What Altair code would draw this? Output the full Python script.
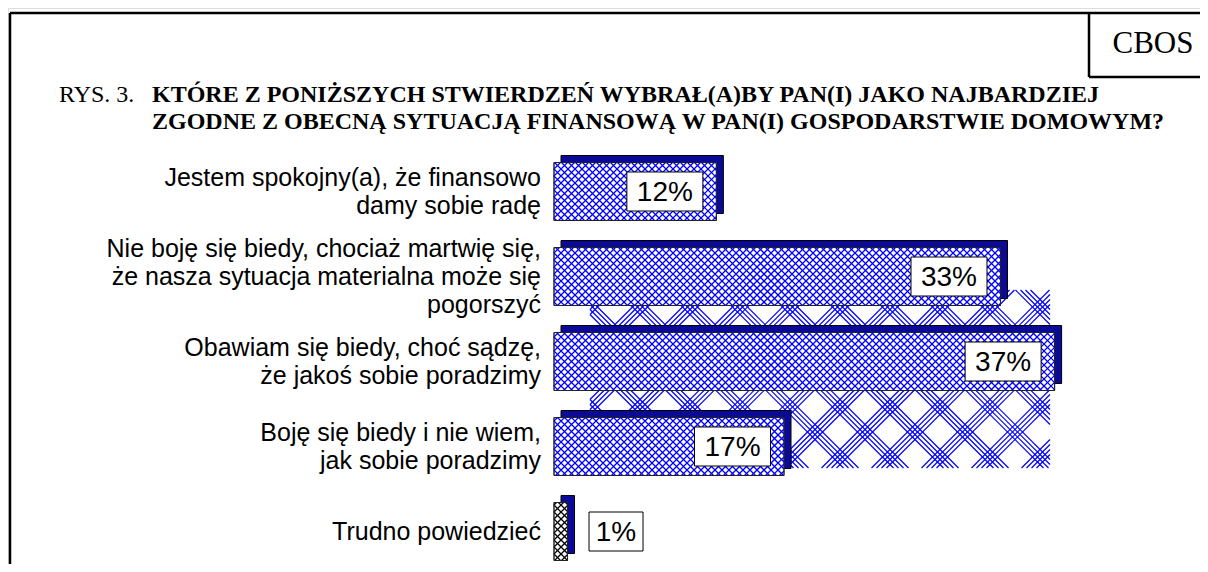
import altair as alt
import pandas as pd
import numpy as np

# ---------------- data ----------------
categories = [
    "Jestem spokojny(a), że finansowo\ndamy sobie radę",
    "Nie boję się biedy, chociaż martwię się,\nże nasza sytuacja materialna może się\npogorszyć",
    "Obawiam się biedy, choć sądzę,\nże jakoś sobie poradzimy",
    "Boję się biedy i nie wiem,\njak sobie poradzimy",
    "Trudno powiedzieć",
]
values = [12, 33, 37, 17, 1]
value_labels = ["12%", "33%", "37%", "17%", "1%"]
hatch_colors = ["#0000ff", "#0000ff", "#0000ff", "#0000ff", "#000000"]
title_prefix = "RYS. 3."
title_lines = [
    "KTÓRE Z PONIŻSZYCH STWIERDZEŃ WYBRAŁ(A)BY PAN(I) JAKO NAJBARDZIEJ",
    "ZGODNE Z OBECNĄ SYTUACJĄ FINANSOWĄ W PAN(I) GOSPODARSTWIE DOMOWYM?",
]
source_label = "CBOS"

# ---------------- layout (pixels) ----------------
W, H = 1192, 556
PX = 13.53          # pixels per percentage point
X0 = 546            # pixel position of 0%
ROW = 85            # pixels between bar centres
Y0 = 183.5          # pixel centre of first bar
BAR_H = 58
DEPTH = 7
LINE_H = 28

def xd(px):
    return (px - X0) / PX

def yd(py):
    return (py - Y0) / ROW

xscale = alt.Scale(domain=[xd(0), xd(W)], nice=False, zero=False)
yscale = alt.Scale(domain=[yd(0), yd(H)], nice=False, zero=False, reverse=True)

rows = list(range(len(values)))
df = pd.DataFrame({"value": values, "label": value_labels, "row": rows})
df["start"] = 0.0
df["top"] = df["row"] - (BAR_H / 2) / ROW
df["bot"] = df["row"] + (BAR_H / 2) / ROW
box_w = [22 * len(s) + 10 for s in value_labels]
bl, br = [], []
for v, w in zip(values, box_w):
    if v * PX > w + 30:
        r = v - 13.5 / PX
        bl.append(r - w / PX); br.append(r)
    else:
        l = v + 21.5 / PX
        bl.append(l); br.append(l + w / PX)
df["box_l"] = bl
df["box_r"] = br
df["box_c"] = (df["box_l"] + df["box_r"]) / 2
df["box_t"] = df["row"] - 19.5 / ROW
df["box_b"] = df["row"] + 19.5 / ROW

# category label lines, centred on their bar
lab = []
for i, c in enumerate(categories):
    parts = c.split("\n")
    n = len(parts)
    for k, p in enumerate(parts):
        lab.append({"txt": p, "yy": i + (k - (n - 1) / 2) * LINE_H / ROW})
labdf = pd.DataFrame(lab)


def diag_segments(x0p, x1p, y0p, y1p, cs_plus, cs_minus, col):
    out = []
    for c in cs_plus:          # x + y = c
        xa, xb = max(x0p, c - y1p), min(x1p, c - y0p)
        if xb > xa:
            out.append((xd(xa), yd(c - xa), xd(xb), yd(c - xb), col))
    for c in cs_minus:         # x - y = c
        xa, xb = max(x0p, c + y0p), min(x1p, c + y1p)
        if xb > xa:
            out.append((xd(xa), yd(xa - c), xd(xb), yd(xb - c), col))
    return out

# hatch texture inside the bar faces (derived from the values)
S = 7.0
segs = []
for i, v in enumerate(values):
    x0p, x1p = X0, X0 + v * PX
    cy = Y0 + ROW * i
    y0p, y1p = cy - BAR_H / 2, cy + BAR_H / 2
    cp = np.arange(np.ceil((x0p + y0p) / S) * S, x1p + y1p + 0.01, S)
    cm = np.arange(np.ceil((x0p - y1p) / S) * S, x1p - y0p + 0.01, S)
    segs += diag_segments(x0p, x1p, y0p, y1p, cp, cm, hatch_colors[i])
hatch = pd.DataFrame(segs, columns=["x", "y", "x2", "y2", "col"])

# decorative large lattice seen behind the bars
bx0, bx1, by0, by1 = 582, 1042, 282, 460
P = 50
offs = [-7.5, -2.5, 2.5, 7.5]
cp = [931 + P * k + o for k in range(-30, 30) for o in offs]
cm = [333 + P * k + o for k in range(-30, 30) for o in offs]
lat = pd.DataFrame(diag_segments(bx0, bx1, by0, by1, cp, cm, "#0000ff"),
                   columns=["x", "y", "x2", "y2", "col"])

one = pd.DataFrame({"a": [0]})

X = lambda f: alt.X(f, type="quantitative", scale=xscale, axis=None)
Y = lambda f: alt.Y(f, type="quantitative", scale=yscale, axis=None)

lattice = alt.Chart(lat).mark_rule(strokeWidth=1.2, color="#0000ff").encode(
    x=X("x"), x2="x2", y=Y("y"), y2="y2")

back = alt.Chart(df).mark_rect(
    color="#0a0a96", stroke="#000000", strokeWidth=1,
    xOffset=DEPTH, x2Offset=DEPTH, yOffset=-DEPTH, y2Offset=-DEPTH
).encode(x=X("start"), x2="value", y=Y("top"), y2="bot")

front = alt.Chart(df).mark_rect(fill="#ffffff", stroke="#333333", strokeWidth=1).encode(
    x=X("start"), x2="value", y=Y("top"), y2="bot")

hatch_layer = alt.Chart(hatch).mark_rule(strokeWidth=1.3).encode(
    x=X("x"), x2="x2", y=Y("y"), y2="y2",
    color=alt.Color("col:N", scale=None, legend=None),
)

front_edge = alt.Chart(df).mark_rect(fill=None, stroke="#222222", strokeWidth=1).encode(
    x=X("start"), x2="value", y=Y("top"), y2="bot")

boxes = alt.Chart(df).mark_rect(fill="#ffffff", stroke="#000000", strokeWidth=1).encode(
    x=X("box_l"), x2="box_r", y=Y("box_t"), y2="box_b")

box_text = alt.Chart(df).mark_text(
    font="Liberation Sans", fontSize=28, align="center", baseline="middle", dy=1, color="#000000"
).encode(x=X("box_c"), y=Y("row"), text="label:N")

cat_text = alt.Chart(labdf).mark_text(
    font="Liberation Sans", fontSize=25, align="right", baseline="middle", color="#000000"
).encode(x=alt.value(533), y=Y("yy"), text="txt:N")

# frame, CBOS box, titles
rule = dict(color="#000000", strokeWidth=2.5)
frame_top = alt.Chart(one).mark_rule(**rule).encode(x=alt.value(2), x2=alt.value(W), y=alt.value(5))
frame_left = alt.Chart(one).mark_rule(**rule).encode(x=alt.value(2), y=alt.value(5), y2=alt.value(H))
cbos_left = alt.Chart(one).mark_rule(**rule).encode(x=alt.value(1081), y=alt.value(5), y2=alt.value(69))
cbos_bot = alt.Chart(one).mark_rule(**rule).encode(x=alt.value(1081), x2=alt.value(W), y=alt.value(69))
cbos_text = alt.Chart(one).mark_text(
    font="Liberation Serif", fontSize=31, align="center", baseline="alphabetic", color="#000000"
).encode(x=alt.value(1145), y=alt.value(45), text=alt.value(source_label))

serif = dict(font="Liberation Serif", fontSize=24, align="left", baseline="alphabetic", color="#000000")
t0 = alt.Chart(one).mark_text(**serif).encode(x=alt.value(51), y=alt.value(94), text=alt.value(title_prefix))
t1 = alt.Chart(one).mark_text(fontWeight="bold", **serif).encode(
    x=alt.value(144), y=alt.value(94), text=alt.value(title_lines[0]))
t2 = alt.Chart(one).mark_text(fontWeight="bold", **serif).encode(
    x=alt.value(144), y=alt.value(121), text=alt.value(title_lines[1]))

chart = alt.layer(
    lattice, back, front, hatch_layer, front_edge, boxes, box_text, cat_text,
    frame_top, frame_left, cbos_left, cbos_bot, cbos_text, t0, t1, t2
).properties(
    width=W, height=H, padding=0, autosize=alt.AutoSizeParams(type="none")
).configure_view(stroke=None).configure(background="#ffffff")

chart.save("out.html", embed_options={"renderer": "svg", "actions": False})
